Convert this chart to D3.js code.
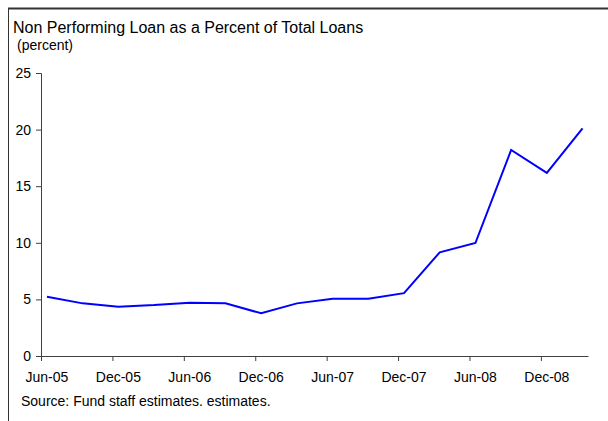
<!DOCTYPE html>
<html lang="en">
<head>
<meta charset="UTF-8">
<title>Non Performing Loan as a Percent of Total Loans</title>
<script src="https://d3js.org/d3.v7.min.js"></script>
<style>
    body { margin: 0; background: #fff; }
    svg { display: block; }
    svg text { font-family: "Liberation Sans", Arial, sans-serif; fill: #000; }
    .tick text { font-size: 14px; }
    .tick line, .domain { stroke: #404040; }
</style>
</head>
<body>
<svg width="608" height="421"></svg>
<script>
    // quarterly observations, month index counted from Jun-05
    const months = [0, 3, 6, 9, 12, 15, 18, 21, 24, 27, 30, 33, 36, 39, 42, 45];
    const npl = [5.24, 4.65, 4.36, 4.5, 4.71, 4.65, 3.77, 4.65, 5.06, 5.05, 5.55, 9.16, 9.98, 18.2, 16.17, 20.1];
    const tickMonths = [0, 6, 12, 18, 24, 30, 36, 42];
    const tickLabels = ["Jun-05", "Dec-05", "Jun-06", "Dec-06", "Jun-07", "Dec-07", "Jun-08", "Dec-08"];
    const yTicks = [0, 5, 10, 15, 20, 25];

    const svg = d3.select("svg");
    const mLeft = 41, mRight = 588.5, mTop = 73, mBottom = 356;

    // one slot per month, 46 months shown
    const x = d3.scaleLinear().domain([0, 46]).range([mLeft, mRight]);
    const y = d3.scaleLinear().domain([0, 25]).range([mBottom, mTop]);

    // frame: top and left only
    svg.append("line").attr("x1", 8).attr("x2", 608).attr("y1", 8.5).attr("y2", 8.5)
        .attr("stroke", "#333").attr("stroke-width", 2);
    svg.append("line").attr("x1", 8.5).attr("x2", 8.5).attr("y1", 8).attr("y2", 421)
        .attr("stroke", "#333").attr("stroke-width", 1);

    svg.append("text").attr("x", 13).attr("y", 33)
        .attr("font-size", 16).text("Non Performing Loan as a Percent of Total Loans");
    svg.append("text").attr("x", 17).attr("y", 50)
        .attr("font-size", 14).text("(percent)");

    // y axis
    svg.append("g")
        .attr("transform", `translate(${mLeft},0)`)
        .call(d3.axisLeft(y).tickValues(yTicks).tickSize(5).tickPadding(5))
        .call(g => g.select(".domain").attr("d", `M-5,${mTop + 0.5}H0.5V${mBottom}`));

    // x axis: ticks at month boundaries, labels centred on the month slot
    const xg = svg.append("g")
        .attr("transform", `translate(0,${mBottom})`)
        .call(d3.axisBottom(x).tickValues(tickMonths).tickSize(5).tickFormat(""))
        .call(g => g.select(".domain").attr("d", `M${mLeft},0.5H${mRight}`));
    xg.selectAll(".xlabel").data(tickMonths).enter().append("text")
        .attr("class", "xlabel")
        .attr("x", d => x(d + 0.5))
        .attr("y", 25.5)
        .attr("text-anchor", "middle")
        .attr("font-size", 14)
        .text((d, i) => tickLabels[i]);

    const line = d3.line()
        .x((d, i) => x(months[i] + 0.5))
        .y(d => y(d));

    svg.append("path")
        .datum(npl)
        .attr("fill", "none")
        .attr("stroke", "#0000FF")
        .attr("stroke-width", 2)
        .attr("d", line);

    svg.append("text").attr("x", 21).attr("y", 405.5)
        .attr("font-size", 14).text("Source: Fund staff estimates. estimates.");
</script>
</body>
</html>
